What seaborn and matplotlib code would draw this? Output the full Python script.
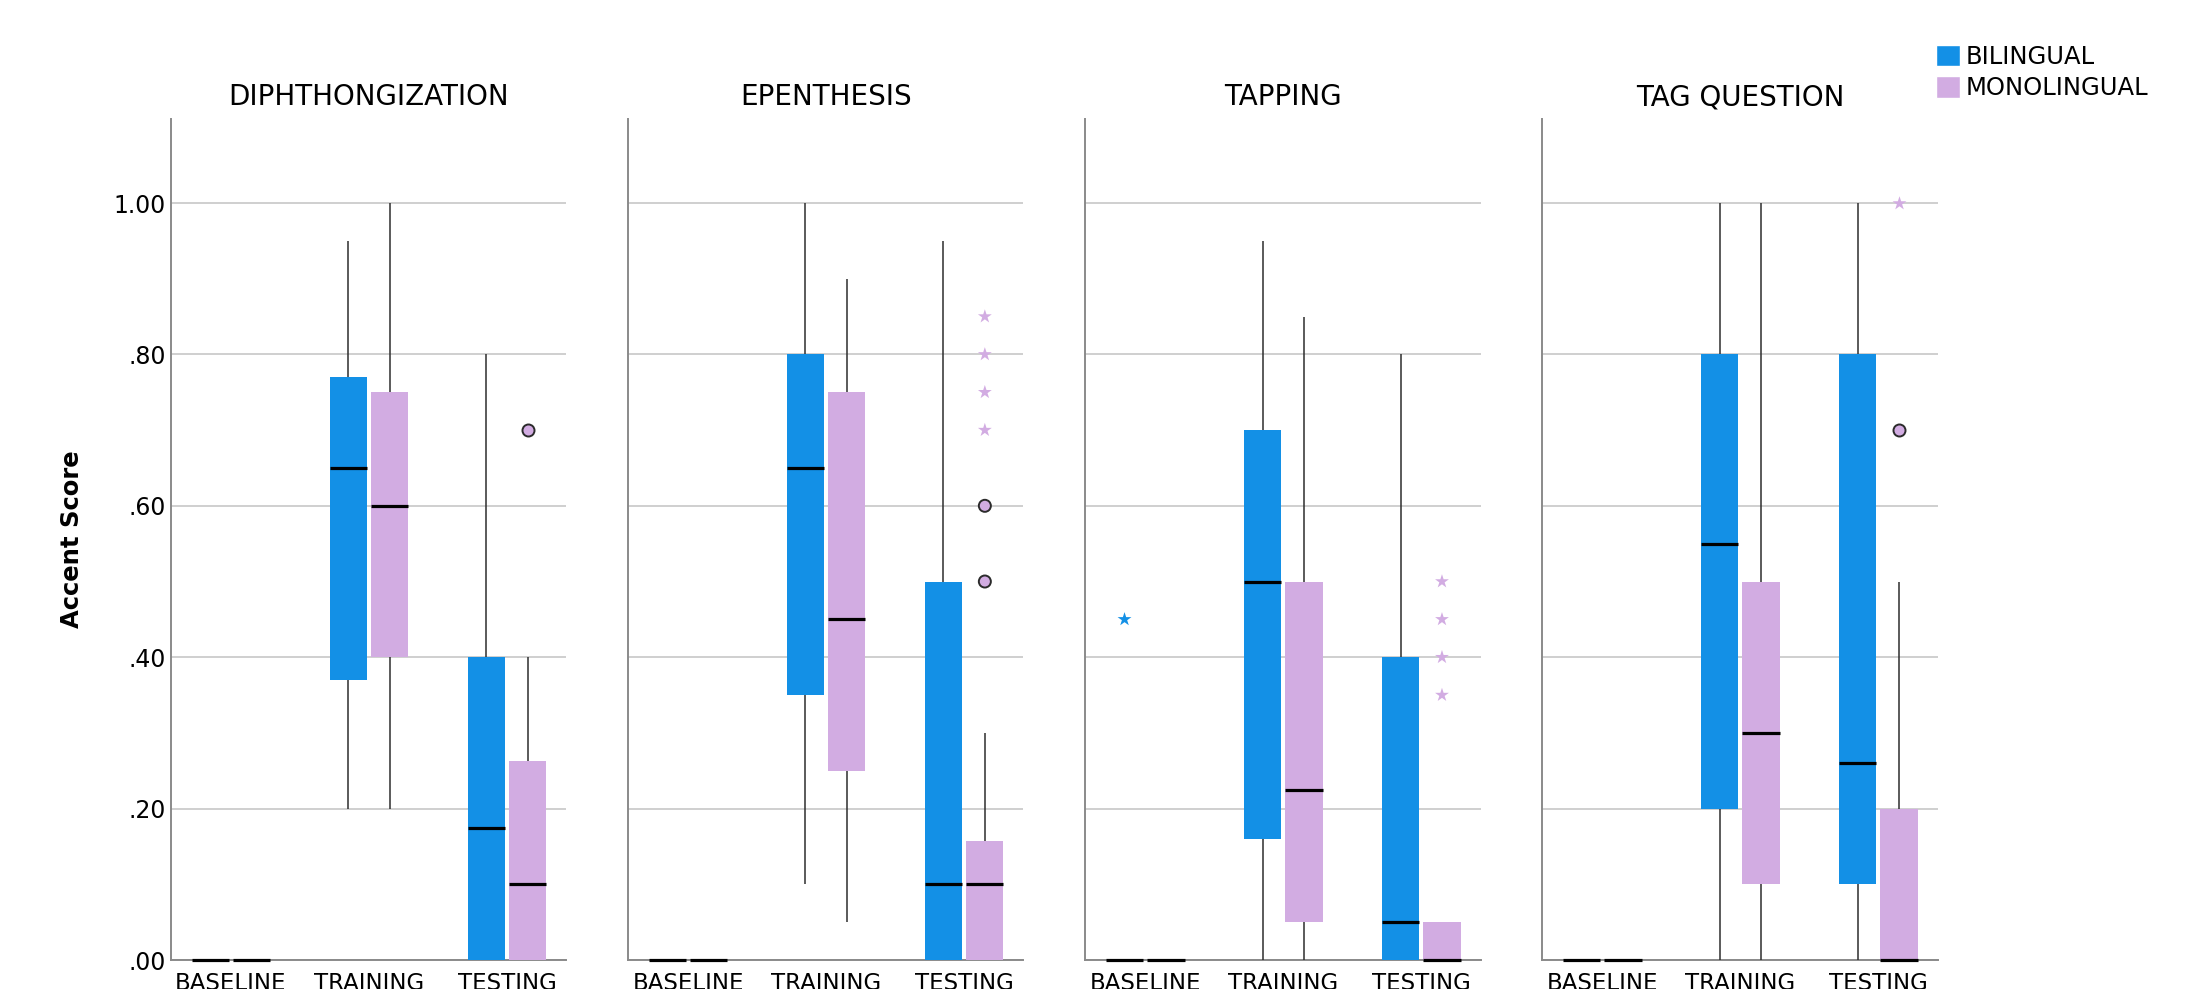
import numpy as np
import pandas as pd
import matplotlib
matplotlib.use("Agg")
import matplotlib.pyplot as plt
from matplotlib.ticker import FuncFormatter, MultipleLocator
from matplotlib.patches import Patch
import seaborn as sns

FEATURES = ["DIPHTHONGIZATION", "EPENTHESIS", "TAPPING", "TAG QUESTION"]
PHASES = ["BASELINE", "TRAINING", "TESTING"]
GROUPS = ["BILINGUAL", "MONOLINGUAL"]

# Box summaries per feature; order inside each row:
# BASELINE-bi, BASELINE-mono, TRAINING-bi, TRAINING-mono, TESTING-bi, TESTING-mono
WHISKER_LOW = [
    [0, 0, .20, .20, 0, 0],
    [0, 0, .10, .05, 0, 0],
    [0, 0, 0, 0, 0, 0],
    [0, 0, 0, 0, 0, 0],
]
Q1 = [
    [0, 0, .37, .40, 0, 0],
    [0, 0, .35, .25, 0, 0],
    [0, 0, .16, .05, 0, 0],
    [0, 0, .20, .10, .10, 0],
]
MEDIAN = [
    [0, 0, .65, .60, .175, .10],
    [0, 0, .65, .45, .10, .10],
    [0, 0, .50, .225, .05, 0],
    [0, 0, .55, .30, .26, 0],
]
Q3 = [
    [0, 0, .77, .75, .40, .2625],
    [0, 0, .80, .75, .50, .1575],
    [0, 0, .70, .50, .40, .05],
    [0, 0, .80, .50, .80, .20],
]
WHISKER_HIGH = [
    [0, 0, .95, 1.00, .80, .40],
    [0, 0, 1.00, .90, .95, .30],
    [0, 0, .95, .85, .80, .05],
    [0, 0, 1.00, 1.00, 1.00, .50],
]

# Outliers (circle) and extreme values (star)
OUT_FEATURE = ["DIPHTHONGIZATION",
               "EPENTHESIS", "EPENTHESIS", "EPENTHESIS", "EPENTHESIS", "EPENTHESIS", "EPENTHESIS",
               "TAPPING", "TAPPING", "TAPPING", "TAPPING", "TAPPING",
               "TAG QUESTION", "TAG QUESTION"]
OUT_PHASE = ["TESTING",
             "TESTING", "TESTING", "TESTING", "TESTING", "TESTING", "TESTING",
             "BASELINE", "TESTING", "TESTING", "TESTING", "TESTING",
             "TESTING", "TESTING"]
OUT_GROUP = ["MONOLINGUAL",
             "MONOLINGUAL", "MONOLINGUAL", "MONOLINGUAL", "MONOLINGUAL", "MONOLINGUAL", "MONOLINGUAL",
             "BILINGUAL", "MONOLINGUAL", "MONOLINGUAL", "MONOLINGUAL", "MONOLINGUAL",
             "MONOLINGUAL", "MONOLINGUAL"]
OUT_VALUE = [.70,
             .50, .60, .70, .75, .80, .85,
             .45, .35, .40, .45, .50,
             .70, 1.00]
OUT_SYMBOL = ["circle",
              "circle", "circle", "star", "star", "star", "star",
              "star", "star", "star", "star", "star",
              "circle", "star"]

BLUE = "#1390E6"
PURPLE = "#D2ACE2"
palette = {"BILINGUAL": BLUE, "MONOLINGUAL": PURPLE}
BOX_WIDTH = 0.6

sns.set_theme(style="white")
plt.rcParams["font.family"] = ["DejaVu Sans"]
plt.rcParams["text.color"] = "black"
plt.rcParams["axes.labelcolor"] = "black"
plt.rcParams["xtick.color"] = "black"
plt.rcParams["ytick.color"] = "black"

fig, axes = plt.subplots(1, 4, figsize=(21.97, 9.89), dpi=100, sharey=True)
fig.subplots_adjust(left=0.0778, right=0.882, bottom=0.0293, top=0.8797, wspace=0.156)

out_df = pd.DataFrame({"feature": OUT_FEATURE, "phase": OUT_PHASE, "group": OUT_GROUP,
                       "value": OUT_VALUE, "symbol": OUT_SYMBOL})
out_df["xpos"] = [PHASES.index(p) + (-1 if g == GROUPS[0] else 1) * BOX_WIDTH / 4
                  for p, g in zip(out_df["phase"], out_df["group"])]

for i, (ax, feat) in enumerate(zip(axes, FEATURES)):
    rows = []
    k = 0
    for p, phase in enumerate(PHASES):
        for group in GROUPS:
            for stat in (WHISKER_LOW, Q1, MEDIAN, Q3, WHISKER_HIGH):
                rows.append({"pos": p, "group": group, "value": stat[i][k]})
            k += 1
    df = pd.DataFrame(rows)
    sns.boxplot(data=df, x="pos", y="value", hue="group", hue_order=GROUPS, palette=palette,
                native_scale=True, width=BOX_WIDTH, gap=0.1, whis=(0, 100), showcaps=False,
                saturation=1, fill=True, linecolor="#2a2a2a", linewidth=1.1,
                boxprops={"linewidth": 0},
                medianprops={"color": "black", "linewidth": 2.3, "solid_capstyle": "butt",
                             "clip_on": False, "zorder": 4},
                whiskerprops={"color": "#2e2e2e", "linewidth": 1.1},
                showfliers=False, legend=False, ax=ax)

    sub = out_df[out_df["feature"] == feat]
    circ = sub[sub["symbol"] == "circle"]
    star = sub[sub["symbol"] == "star"]
    if len(circ):
        sns.scatterplot(data=circ, x="xpos", y="value", hue="group", hue_order=GROUPS,
                        palette=palette, marker="o", s=75, edgecolor="#2b2b2b", linewidth=1.4,
                        legend=False, ax=ax, zorder=5, clip_on=False)
    if len(star):
        sns.scatterplot(data=star, x="xpos", y="value", hue="group", hue_order=GROUPS,
                        palette=palette, marker="*", s=110, linewidth=0,
                        legend=False, ax=ax, zorder=5, clip_on=False)

    ax.set_xlim(-0.435, 2.43)
    ax.set_ylim(0, 1.111)
    ax.set_xticks(range(len(PHASES)))
    ax.set_xticklabels(PHASES, fontsize=16.5)
    ax.yaxis.set_major_locator(MultipleLocator(0.2))
    ax.yaxis.set_major_formatter(FuncFormatter(lambda v, _: f"{v:.2f}".lstrip("0")))
    ax.tick_params(axis="both", length=0, labelsize=17)
    ax.tick_params(axis="x", pad=8.5, labelsize=16.5)
    ax.grid(axis="y", color="#cfcfcf", linewidth=1.4)
    ax.grid(axis="x", visible=False)
    ax.set_axisbelow(True)
    for s in ("top", "right"):
        ax.spines[s].set_visible(False)
    for s in ("left", "bottom"):
        ax.spines[s].set_color("#8a8a8a")
        ax.spines[s].set_linewidth(1.4)
        ax.spines[s].set_zorder(1)
    ax.set_xlabel("")
    ax.set_ylabel("")
    ax.set_title(feat, fontsize=20, pad=10)

axes[0].set_ylabel("Accent Score", fontsize=17.5, fontweight="bold")
axes[0].yaxis.set_label_coords(-0.22, 0.5)

handles = [Patch(facecolor=BLUE, label=GROUPS[0]), Patch(facecolor=PURPLE, label=GROUPS[1])]
fig.legend(handles=handles, loc="upper left", bbox_to_anchor=(0.881, 0.955), frameon=False,
           fontsize=17.5, handlelength=1.0, handleheight=1.0, handletextpad=0.25,
           labelspacing=0.3, borderpad=0, borderaxespad=0)

fig.savefig("out.png", dpi=100)
